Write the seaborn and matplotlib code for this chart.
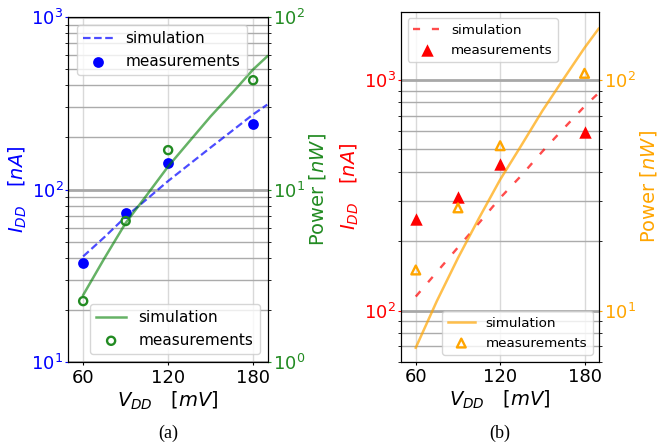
import matplotlib
matplotlib.use("Agg")
import matplotlib.pyplot as plt
import seaborn as sns
from matplotlib.ticker import NullFormatter, FixedLocator

# ---------------- data ----------------
vdd_sim = [60, 75, 90, 105, 120, 135, 150, 165, 180, 190]
vdd_meas = [60, 90, 120, 180]

# panel (a)
a_idd_sim = [41, 53, 69.5, 88, 112, 140, 175, 218, 272, 310]
a_pow_sim = [2.45, 4.0, 6.4, 9.3, 13.6, 19.0, 26.5, 36.0, 49.5, 59.0]
a_idd_meas = [37.7, 73.5, 142, 238]
a_pow_meas = [2.26, 6.57, 16.9, 42.9]

# panel (b)
b_idd_sim = [115, 147, 188, 240, 308, 385, 490, 615, 769, 879]
b_pow_sim = [6.9, 11.0, 16.9, 25.2, 37.0, 52.0, 73.5, 101, 138, 167]
b_idd_meas = [250, 311, 433, 596]
b_pow_meas = [15.0, 27.9, 51.9, 107]

x_ticks = [60, 120, 180]
captions = ["(a)", "(b)"]

W, H = 657, 447
fig = plt.figure(figsize=(W / 100, H / 100), dpi=100)
fig.patch.set_facecolor("white")

axA = fig.add_axes([68.3 / W, 1 - 362.3 / H, 199.7 / W, 345.6 / H])
axB = fig.add_axes([401 / W, 1 - 361.7 / H, 198.3 / W, 350 / H])


def style_axes(ax, ax2, lcol, rcol, ylim_l, ylim_r):
    for a in (ax, ax2):
        a.set_yscale("log")
        a.yaxis.set_minor_formatter(NullFormatter())
    ax.set_xlim(49.5, 190.5)
    ax.set_ylim(*ylim_l)
    ax2.set_ylim(*ylim_r)
    ax.xaxis.set_major_locator(FixedLocator(x_ticks))
    ax.tick_params(axis="x", labelsize=13, length=2.5, pad=2)
    ax.tick_params(axis="y", which="major", colors=lcol, labelsize=13,
                   length=2.5, pad=1)
    ax2.tick_params(axis="y", which="major", colors=rcol, labelsize=13,
                    length=2.5, pad=1)
    for a in (ax, ax2):
        a.tick_params(axis="y", which="minor", colors="black", length=2)
        for s in a.spines.values():
            s.set_color("black")
    ax.grid(axis="x", which="major", color="#d9d9d9", lw=1.0)
    ax.grid(axis="y", which="minor", color="#ababab", lw=1.0)
    ax.grid(axis="y", which="major", color="#a8a8a8", lw=2.0)
    ax.set_xlabel(r"$V_{DD}\quad[mV]$", fontsize=14, labelpad=2)
    ax.set_ylabel(r"$I_{DD}\quad[nA]$", fontsize=14, color=lcol, labelpad=2)
    ax2.set_ylabel(r"Power $[nW]$", fontsize=14, color=rcol, labelpad=1)


# ---------------- panel (a) ----------------
axA2 = axA.twinx()
sns.lineplot(x=vdd_sim, y=a_idd_sim, ax=axA, color="blue", alpha=0.7,
             linewidth=1.6, linestyle=(0, (3.4, 1.6)), label="simulation",
             legend=False, zorder=2)
sns.scatterplot(x=vdd_meas, y=a_idd_meas, ax=axA, color="blue", s=60,
                linewidth=0, label="measurements", legend=False, zorder=3)
sns.lineplot(x=vdd_sim, y=a_pow_sim, ax=axA2, color="green", alpha=0.6,
             linewidth=1.8, label="simulation", legend=False, zorder=2)
sns.scatterplot(x=vdd_meas, y=a_pow_meas, ax=axA2, marker="o", s=34,
                facecolors="none", edgecolors="forestgreen", linewidths=1.7,
                label="measurements", legend=False, zorder=3)
style_axes(axA, axA2, "blue", "forestgreen", (10, 1000), (1, 100))

h1, l1 = axA.get_legend_handles_labels()
h2, l2 = axA2.get_legend_handles_labels()
legA1 = axA2.legend(h1, l1, loc="upper left", fontsize=11, borderaxespad=0.55)
axA2.add_artist(legA1)
axA2.legend(h2, l2, loc="lower right", fontsize=11, borderaxespad=0.55)

# ---------------- panel (b) ----------------
axB2 = axB.twinx()
sns.lineplot(x=vdd_sim, y=b_idd_sim, ax=axB, color="red", alpha=0.7,
             linewidth=1.7, linestyle=(0, (3, 5)), label="simulation",
             legend=False, zorder=2)
sns.scatterplot(x=vdd_meas, y=b_idd_meas, ax=axB, color="red", marker="^",
                s=80, linewidth=0, label="measurements", legend=False, zorder=3)
sns.lineplot(x=vdd_sim, y=b_pow_sim, ax=axB2, color="orange", alpha=0.7,
             linewidth=1.8, label="simulation", legend=False, zorder=2)
sns.scatterplot(x=vdd_meas, y=b_pow_meas, ax=axB2, marker="^", s=40,
                facecolors="none", edgecolors="orange", linewidths=1.7,
                label="measurements", legend=False, zorder=3)
style_axes(axB, axB2, "red", "orange", (60, 1980), (6, 198))

h1, l1 = axB.get_legend_handles_labels()
h2, l2 = axB2.get_legend_handles_labels()
legB1 = axB2.legend(h1, l1, loc="upper left", fontsize=9.7)
axB2.add_artist(legB1)
axB2.legend(h2, l2, loc="lower right", fontsize=9.7)

# captions
fig.text(168 / W, 1 - 433 / H, captions[0], ha="center", va="center",
         family="Liberation Serif", fontsize=13)
fig.text(500 / W, 1 - 433 / H, captions[1], ha="center", va="center",
         family="Liberation Serif", fontsize=13)

fig.savefig("out.png", dpi=100)
